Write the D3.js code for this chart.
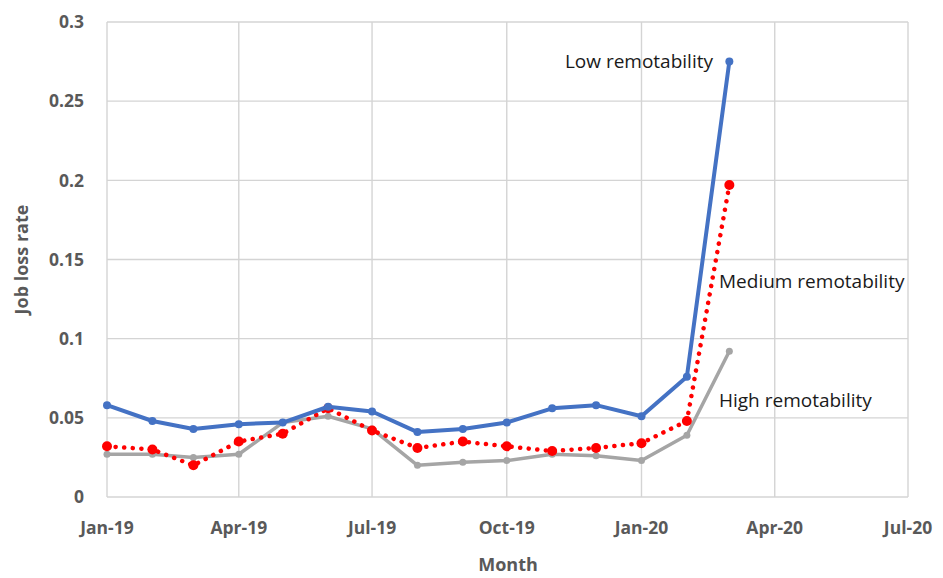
<!DOCTYPE html>
<html>
<head>
<meta charset="utf-8">
<script src="https://cdn.jsdelivr.net/npm/d3@7"></script>
<style>
  body { margin: 0; background: #fff; }
  text { font-family: "Open Sans", "Noto Sans", sans-serif; }
</style>
</head>
<body>
<div id="chart"></div>
<script>
// monthly data, Jan-19 .. Mar-20
var months = ["2019-01","2019-02","2019-03","2019-04","2019-05","2019-06","2019-07","2019-08",
              "2019-09","2019-10","2019-11","2019-12","2020-01","2020-02","2020-03"];
var lowRemote  = [0.058,0.048,0.043,0.046,0.047,0.057,0.054,0.041,0.043,0.047,0.056,0.058,0.051,0.076,0.275];
var medRemote  = [0.032,0.030,0.020,0.035,0.040,0.056,0.042,0.031,0.035,0.032,0.029,0.031,0.034,0.048,0.197];
var highRemote = [0.027,0.027,0.025,0.027,0.047,0.051,0.043,0.020,0.022,0.023,0.027,0.026,0.023,0.039,0.092];
var xTicks = ["2019-01","2019-04","2019-07","2019-10","2020-01","2020-04","2020-07"];
var yTicks = [0,0.05,0.1,0.15,0.2,0.25,0.3];

var W = 943, H = 578;
var margin = {left: 107, right: 35, top: 22, bottom: 81};
var parse = d3.timeParse("%Y-%m");

var svg = d3.select("#chart").append("svg").attr("width", W).attr("height", H);

var x = d3.scaleTime()
  .domain([parse("2019-01"), parse("2020-07")])
  .range([margin.left, W - margin.right]);
var y = d3.scaleLinear()
  .domain([0, 0.3])
  .range([H - margin.bottom, margin.top]);

// grid
svg.append("g").selectAll("line.h").data(yTicks).enter().append("line")
  .attr("x1", x.range()[0]).attr("x2", x.range()[1])
  .attr("y1", d => y(d)).attr("y2", d => y(d))
  .attr("stroke", "#d4d4d4").attr("stroke-width", 1.4);
svg.append("g").selectAll("line.v").data(xTicks).enter().append("line")
  .attr("x1", d => x(parse(d))).attr("x2", d => x(parse(d)))
  .attr("y1", y(0)).attr("y2", y(0.3))
  .attr("stroke", "#d4d4d4").attr("stroke-width", 1.4);

// tick labels
svg.append("g").selectAll("text").data(yTicks).enter().append("text")
  .attr("x", 84).attr("y", d => y(d)).attr("dy", "0.36em")
  .attr("text-anchor", "end")
  .attr("font-size", 17.5).attr("font-weight", "bold").attr("fill", "#595959")
  .text(d => d3.format("")(d));
var fmt = d3.timeFormat("%b-%y");
svg.append("g").selectAll("text").data(xTicks).enter().append("text")
  .attr("x", d => x(parse(d))).attr("y", 534)
  .attr("text-anchor", "middle")
  .attr("font-size", 17.5).attr("font-weight", "bold").attr("fill", "#595959")
  .text(d => fmt(parse(d)));

svg.append("text")
  .attr("x", 508).attr("y", 571).attr("text-anchor", "middle")
  .attr("font-size", 18).attr("font-weight", "bold").attr("fill", "#595959")
  .text("Month");
svg.append("text")
  .attr("transform", "translate(28," + y(0.15) + ") rotate(-90)")
  .attr("text-anchor", "middle")
  .attr("font-size", 18).attr("font-weight", "bold").attr("fill", "#595959")
  .text("Job loss rate");

var series = [
  {name: "High remotability", values: highRemote, color: "#A5A5A5", width: 3.5, dash: null, r: 3.5},
  {name: "Medium remotability", values: medRemote, color: "#FF0000", width: 4.5, dash: "0.1 8.5", r: 5},
  {name: "Low remotability", values: lowRemote, color: "#4472C4", width: 4, dash: null, r: 4}
];

var line = d3.line()
  .x((d, i) => x(parse(months[i])))
  .y(d => y(d));

series.forEach(function(s) {
  var g = svg.append("g");
  g.append("path")
    .attr("d", line(s.values))
    .attr("fill", "none")
    .attr("stroke", s.color)
    .attr("stroke-width", s.width)
    .attr("stroke-linecap", s.dash ? "round" : "butt")
    .attr("stroke-linejoin", "round")
    .attr("stroke-dasharray", s.dash);
  g.selectAll("circle").data(s.values).enter().append("circle")
    .attr("cx", (d, i) => x(parse(months[i])))
    .attr("cy", d => y(d))
    .attr("r", s.r)
    .attr("fill", s.color);
});

// series labels
var labelSize = 19;
svg.append("text").attr("x", 713).attr("y", y(0.275)).attr("dy", "0.35em")
  .attr("text-anchor", "end").attr("font-size", labelSize).attr("fill", "#1a1a1a")
  .text("Low remotability");
svg.append("text").attr("x", 719).attr("y", y(0.136)).attr("dy", "0.35em")
  .attr("font-size", labelSize).attr("fill", "#1a1a1a")
  .text("Medium remotability");
svg.append("text").attr("x", 719).attr("y", y(0.061)).attr("dy", "0.35em")
  .attr("font-size", labelSize).attr("fill", "#1a1a1a")
  .text("High remotability");
</script>
</body>
</html>
